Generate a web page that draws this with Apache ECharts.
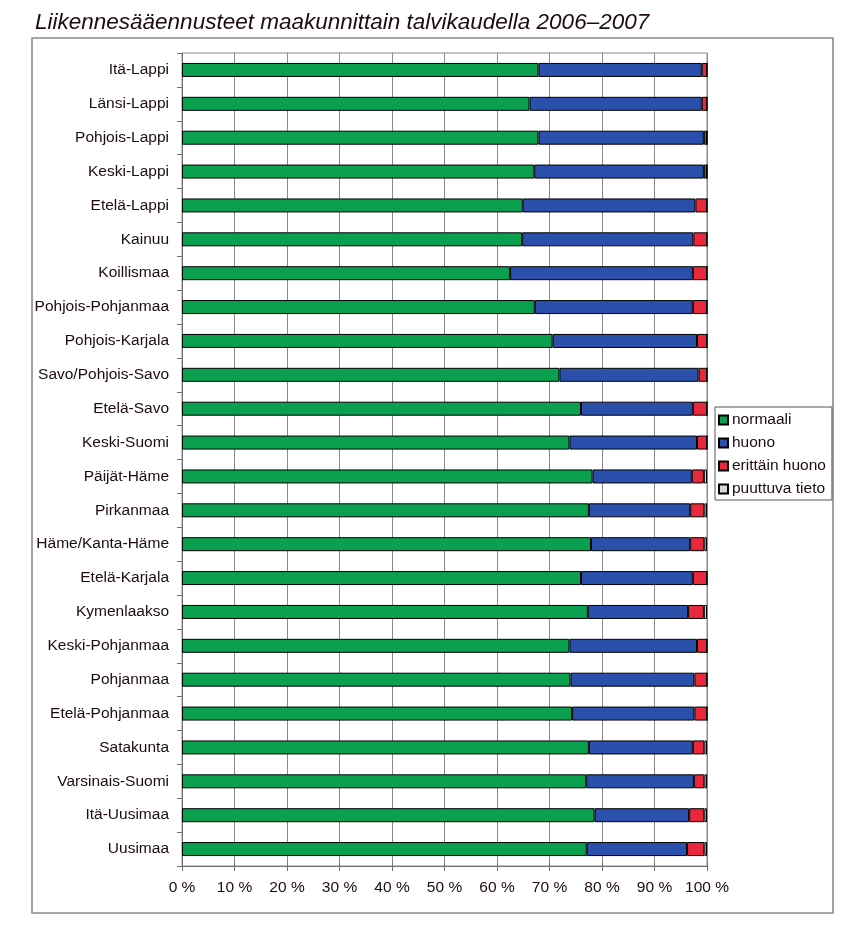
<!DOCTYPE html>
<html><head><meta charset="utf-8">
<script src="https://cdn.jsdelivr.net/npm/echarts@6/dist/echarts.min.js"></script>
<style>html,body{margin:0;padding:0;background:#fff}#c{width:843px;height:927px}</style>
</head><body><div id="c"></div>
<script>
var categories = ["Itä-Lappi","Länsi-Lappi","Pohjois-Lappi","Keski-Lappi","Etelä-Lappi","Kainuu","Koillismaa","Pohjois-Pohjanmaa","Pohjois-Karjala","Savo/Pohjois-Savo","Etelä-Savo","Keski-Suomi","Päijät-Häme","Pirkanmaa","Häme/Kanta-Häme","Etelä-Karjala","Kymenlaakso","Keski-Pohjanmaa","Pohjanmaa","Etelä-Pohjanmaa","Satakunta","Varsinais-Suomi","Itä-Uusimaa","Uusimaa"];
var normaali = [67.9,66.2,67.9,67.1,64.9,64.8,62.5,67.2,70.6,71.9,76.0,73.8,78.2,77.5,77.9,76.0,77.3,73.8,74.0,74.3,77.5,77.0,78.6,77.1];
var huono = [31.1,32.8,31.5,32.3,32.9,32.6,34.8,30.1,27.5,26.5,21.3,24.3,18.9,19.3,18.9,21.3,19.1,24.3,23.6,23.3,19.8,20.5,18.0,19.1];
var erittainHuono = [1.0,1.0,0.6,0.6,2.2,2.6,2.7,2.7,1.9,1.6,2.7,1.9,2.3,2.7,2.7,2.7,3.0,1.9,2.4,2.4,2.2,2.0,2.9,3.3];
var puuttuva = [0,0,0,0,0,0,0,0,0,0,0,0,0.6,0.5,0.5,0,0.6,0,0,0,0.5,0.5,0.5,0.5];
var seriesNames = ["normaali","huono","erittäin huono","puuttuva tieto"];
var colors = ["#0aa04f","#2b50ab","#e8283b","#dcd6d6"];
var tickLabels = ["0 %","10 %","20 %","30 %","40 %","50 %","60 %","70 %","80 %","90 %","100 %"];

var chart = echarts.init(document.getElementById('c'));
var txt = '#1e0c0c';
var font = 'Liberation Sans, Arial, sans-serif';
var vals = [normaali, huono, erittainHuono, puuttuva];
var series = seriesNames.map(function(n,i){
  return {name:n,type:'bar',stack:'all',data:vals[i],barWidth:14,
    itemStyle:{color:colors[i],borderColor:'#000',borderWidth:1},silent:true};
});
chart.setOption({
  animation:false,
  backgroundColor:'#fff',
  textStyle:{fontFamily:font},
  title:{text:'Liikennesääennusteet maakunnittain talvikaudella 2006–2007',left:30,top:6,
    textStyle:{fontFamily:font,fontStyle:'italic',fontWeight:'normal',fontSize:22.5,color:txt}},
  graphic:[{type:'rect',shape:{x:32,y:38,width:801,height:875},style:{fill:'none',stroke:'#8a8a8a',lineWidth:1.6},silent:true}],
  grid:{left:182,right:136,top:53,bottom:61,show:true,borderColor:'#8a8a8a',borderWidth:1},
  legend:{orient:'vertical',left:715,top:407,data:seriesNames,icon:'rect',itemWidth:9,itemHeight:9,itemGap:7,
    borderColor:'#555',borderWidth:1,padding:[5,6,3,3],
    textStyle:{fontFamily:font,fontSize:15.5,color:txt,padding:[0,0,0,-1]}},
  xAxis:[{type:'value',min:0,max:100,interval:10,
    axisLine:{show:true,lineStyle:{color:'#707070'}},
    axisTick:{show:true,length:5,lineStyle:{color:'#707070'}},
    splitLine:{show:true,lineStyle:{color:'#8a8a8a',width:1}},
    axisLabel:{fontSize:15.5,color:txt,margin:14,formatter:function(v){return tickLabels[Math.round(v/10)];}}},
    {type:'value',min:0,max:100,interval:10,position:'bottom',
    axisLine:{show:false},axisTick:{show:true,inside:true,length:4,lineStyle:{color:'#707070'}},
    splitLine:{show:false},axisLabel:{show:false}}],
  yAxis:{type:'category',data:categories,inverse:true,
    axisLine:{show:true,lineStyle:{color:'#707070'}},
    axisTick:{show:true,length:5,lineStyle:{color:'#707070'}},
    axisLabel:{fontSize:15.5,color:txt,margin:13}},
  series:series
});
</script></body></html>
